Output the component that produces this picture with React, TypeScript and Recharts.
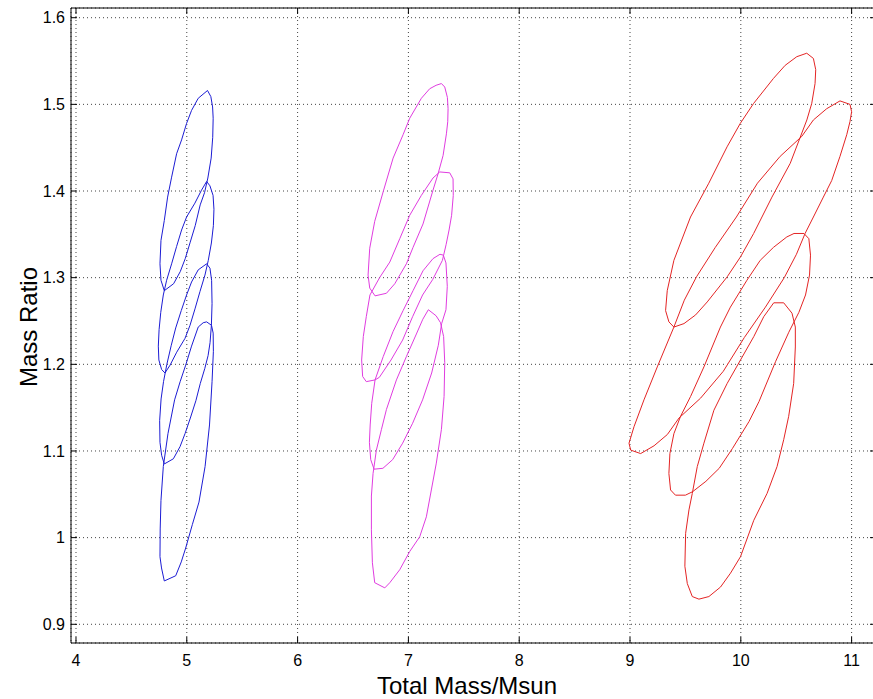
import { CartesianGrid, Scatter, ScatterChart, XAxis, YAxis } from 'recharts';

type Pt = [number, number];

// axis ticks
const xTicks = [4, 5, 6, 7, 8, 9, 10, 11];
const yTicks = [0.9, 1, 1.1, 1.2, 1.3, 1.4, 1.5, 1.6];
const xDomain: [number, number] = [3.955, 11.22];
const yDomain: [number, number] = [0.8784, 1.6112];

// contours, clockwise from the top tip
const blue1: Pt[] = [
  [5.187, 1.516], [5.217, 1.509], [5.233, 1.497], [5.238, 1.484], [5.234, 1.462], [5.22, 1.438],
  [5.19, 1.415], [5.16, 1.398], [5.121, 1.384], [5.076, 1.36], [5.031, 1.341], [4.986, 1.322],
  [4.941, 1.307], [4.881, 1.293], [4.797, 1.285], [4.767, 1.297], [4.758, 1.316], [4.767, 1.343],
  [4.797, 1.366], [4.827, 1.393], [4.863, 1.416], [4.908, 1.443], [4.953, 1.459], [4.998, 1.478],
  [5.043, 1.493], [5.103, 1.507],
];
const blue2: Pt[] = [
  [5.179, 1.411], [5.209, 1.406], [5.237, 1.395], [5.245, 1.379], [5.24, 1.36], [5.222, 1.34],
  [5.194, 1.32], [5.164, 1.303], [5.119, 1.284], [5.074, 1.264], [5.029, 1.245], [4.984, 1.23],
  [4.909, 1.214], [4.849, 1.199], [4.803, 1.19], [4.773, 1.194], [4.748, 1.205], [4.743, 1.221],
  [4.75, 1.24], [4.765, 1.26], [4.788, 1.28], [4.818, 1.297], [4.863, 1.316], [4.908, 1.336],
  [4.953, 1.355], [4.998, 1.37], [5.073, 1.386], [5.133, 1.401],
];
const blue3: Pt[] = [
  [5.179, 1.316], [5.209, 1.311], [5.224, 1.297], [5.228, 1.27], [5.222, 1.245], [5.21, 1.225],
  [5.192, 1.21], [5.162, 1.195], [5.122, 1.178], [5.082, 1.158], [5.032, 1.138], [4.984, 1.12],
  [4.939, 1.105], [4.879, 1.091], [4.797, 1.085], [4.773, 1.095], [4.758, 1.11], [4.755, 1.135],
  [4.768, 1.16], [4.79, 1.18], [4.82, 1.2], [4.86, 1.222], [4.9, 1.242], [4.95, 1.262],
  [4.998, 1.28], [5.043, 1.295], [5.103, 1.309],
];
const blue4: Pt[] = [
  [5.179, 1.249], [5.223, 1.245], [5.238, 1.236], [5.24, 1.215], [5.228, 1.18], [5.205, 1.13],
  [5.165, 1.082], [5.11, 1.041], [5.05, 1.015], [4.99, 0.988], [4.95, 0.972], [4.9, 0.956],
  [4.797, 0.95], [4.772, 0.965], [4.758, 0.978], [4.76, 1.01], [4.767, 1.043], [4.788, 1.082],
  [4.83, 1.12], [4.89, 1.159], [4.94, 1.18], [4.99, 1.199], [5.043, 1.221], [5.103, 1.243],
  [5.148, 1.248],
];

const magenta1: Pt[] = [
  [7.298, 1.524], [7.328, 1.52], [7.352, 1.508], [7.358, 1.495], [7.355, 1.48], [7.343, 1.466],
  [7.313, 1.441], [7.268, 1.42], [7.222, 1.401], [7.132, 1.362], [7.042, 1.335], [6.982, 1.316],
  [6.877, 1.293], [6.802, 1.282], [6.699, 1.279], [6.651, 1.288], [6.636, 1.303], [6.651, 1.334],
  [6.696, 1.365], [6.772, 1.399], [6.862, 1.438], [6.952, 1.465], [7.012, 1.484], [7.117, 1.507],
  [7.192, 1.518], [7.25, 1.522],
];
const magenta2: Pt[] = [
  [7.283, 1.422], [7.373, 1.421], [7.403, 1.414], [7.405, 1.395], [7.39, 1.372], [7.367, 1.355],
  [7.34, 1.338], [7.307, 1.32], [7.22, 1.298], [7.128, 1.28], [7.038, 1.255], [6.948, 1.228],
  [6.843, 1.205], [6.738, 1.185], [6.699, 1.182], [6.62, 1.18], [6.587, 1.186], [6.578, 1.205],
  [6.593, 1.232], [6.62, 1.255], [6.653, 1.28], [6.74, 1.3], [6.832, 1.318], [6.922, 1.345],
  [7.012, 1.372], [7.117, 1.395], [7.222, 1.415],
];
const magenta3: Pt[] = [
  [7.285, 1.327], [7.315, 1.326], [7.339, 1.317], [7.351, 1.29], [7.339, 1.263], [7.3, 1.247],
  [7.27, 1.222], [7.21, 1.19], [7.128, 1.159], [7.038, 1.132], [6.948, 1.109], [6.858, 1.09],
  [6.77, 1.08], [6.69, 1.079], [6.66, 1.09], [6.648, 1.11], [6.655, 1.13], [6.669, 1.155],
  [6.699, 1.182], [6.773, 1.209], [6.862, 1.238], [6.952, 1.262], [7.042, 1.285], [7.132, 1.308],
  [7.222, 1.322],
];
const magenta4: Pt[] = [
  [7.18, 1.263], [7.25, 1.256], [7.29, 1.248], [7.318, 1.232], [7.328, 1.202], [7.322, 1.163],
  [7.298, 1.125], [7.252, 1.086], [7.207, 1.055], [7.162, 1.024], [7.102, 1.001], [7.012, 0.984],
  [6.922, 0.963], [6.832, 0.948], [6.787, 0.942], [6.696, 0.948], [6.675, 0.971], [6.666, 1.009],
  [6.666, 1.048], [6.681, 1.074], [6.711, 1.101], [6.757, 1.125], [6.802, 1.148], [6.892, 1.182],
  [6.982, 1.209], [7.072, 1.235], [7.13, 1.252],
];

const red1: Pt[] = [
  [10.595, 1.559], [10.655, 1.553], [10.676, 1.54], [10.67, 1.524], [10.64, 1.501], [10.596, 1.482],
  [10.446, 1.432], [10.281, 1.393], [10.116, 1.351], [9.997, 1.324], [9.877, 1.301], [9.697, 1.272],
  [9.592, 1.257], [9.487, 1.247], [9.396, 1.243], [9.351, 1.249], [9.321, 1.262], [9.336, 1.285],
  [9.396, 1.32], [9.546, 1.37], [9.711, 1.409], [9.876, 1.451], [9.995, 1.478], [10.115, 1.501],
  [10.295, 1.53], [10.4, 1.545], [10.505, 1.555],
];
const red2: Pt[] = [
  [10.895, 1.504], [10.985, 1.5], [11.0, 1.4915], [10.985, 1.48], [10.956, 1.465], [10.895, 1.44],
  [10.82, 1.412], [10.745, 1.393], [10.655, 1.37], [10.58, 1.351], [10.502, 1.327], [10.392, 1.3],
  [10.222, 1.266], [10.032, 1.231], [9.842, 1.192], [9.637, 1.161], [9.442, 1.138], [9.337, 1.119],
  [9.217, 1.106], [9.096, 1.097], [9.006, 1.101], [8.991, 1.109], [9.036, 1.128], [9.126, 1.159],
  [9.246, 1.197], [9.396, 1.243], [9.49, 1.274], [9.6, 1.301], [9.77, 1.335], [9.96, 1.37],
  [10.15, 1.409], [10.355, 1.44], [10.55, 1.463], [10.655, 1.482], [10.775, 1.495],
];
const red3: Pt[] = [
  [10.48, 1.351], [10.57, 1.351], [10.614, 1.345], [10.629, 1.326], [10.62, 1.303], [10.584, 1.28],
  [10.524, 1.26], [10.433, 1.237], [10.313, 1.203], [10.164, 1.157], [10.074, 1.134], [9.925, 1.103],
  [9.805, 1.08], [9.685, 1.065], [9.565, 1.053], [9.5, 1.049], [9.41, 1.049], [9.366, 1.055],
  [9.351, 1.074], [9.36, 1.097], [9.396, 1.12], [9.456, 1.14], [9.547, 1.163], [9.667, 1.197],
  [9.816, 1.243], [9.906, 1.266], [10.055, 1.297], [10.175, 1.32], [10.295, 1.335], [10.415, 1.347],
];
const red4: Pt[] = [
  [10.297, 1.271], [10.387, 1.271], [10.462, 1.259], [10.492, 1.243], [10.492, 1.22], [10.477, 1.178],
  [10.432, 1.14], [10.387, 1.113], [10.327, 1.082], [10.237, 1.051], [10.117, 1.02], [9.997, 0.978],
  [9.907, 0.959], [9.817, 0.943], [9.712, 0.932], [9.622, 0.929], [9.562, 0.932], [9.517, 0.947],
  [9.495, 0.967], [9.502, 1.005], [9.532, 1.032], [9.562, 1.051], [9.607, 1.082], [9.667, 1.109],
  [9.757, 1.147], [9.877, 1.178], [9.997, 1.205], [10.117, 1.232], [10.207, 1.255],
];

const BLUE = '#1c1cd4';
const MAGENTA = '#e03ce0';
const RED = '#e42424';

const contours = [
  { name: 'b1', color: BLUE, pts: blue1 },
  { name: 'b2', color: BLUE, pts: blue2 },
  { name: 'b3', color: BLUE, pts: blue3 },
  { name: 'b4', color: BLUE, pts: blue4 },
  { name: 'm1', color: MAGENTA, pts: magenta1 },
  { name: 'm2', color: MAGENTA, pts: magenta2 },
  { name: 'm3', color: MAGENTA, pts: magenta3 },
  { name: 'm4', color: MAGENTA, pts: magenta4 },
  { name: 'r1', color: RED, pts: red1 },
  { name: 'r2', color: RED, pts: red2 },
  { name: 'r3', color: RED, pts: red3 },
  { name: 'r4', color: RED, pts: red4 },
];

// close each loop by repeating the first vertex
const toRows = (pts: Pt[]) => [...pts, pts[0]].map(([x, y]) => ({ x, y }));

// plot box edges in px (margins + axis sizes below)
const PLOT_TOP = 8;
const PLOT_BOTTOM = 643;
const PLOT_LEFT = 71;
const PLOT_RIGHT = 876;
const TICK = 6;
const TICK_FONT = 16;

// matlab-style ticks: pointing into the box, on both opposite edges
function XTick({ x, y, payload }: any) {
  return (
    <g>
      <line x1={x} x2={x} y1={PLOT_BOTTOM} y2={PLOT_BOTTOM - TICK} stroke="#000" />
      <line x1={x} x2={x} y1={PLOT_TOP} y2={PLOT_TOP + TICK} stroke="#000" />
      <text x={x} y={y} dy="0.71em" textAnchor="middle" fill="#000" fontSize={TICK_FONT}>
        {payload.value}
      </text>
    </g>
  );
}

function YTick({ x, y, payload }: any) {
  return (
    <g>
      <line x1={PLOT_LEFT} x2={PLOT_LEFT + TICK} y1={y} y2={y} stroke="#000" />
      <line x1={PLOT_RIGHT} x2={PLOT_RIGHT - TICK} y1={y} y2={y} stroke="#000" />
      <text x={x} y={y} dy="0.355em" textAnchor="end" fill="#000" fontSize={TICK_FONT}>
        {String(payload.value)}
      </text>
    </g>
  );
}

export default function App() {
  return (
    <div
      style={{
        position: 'absolute',
        left: 0,
        top: 0,
        width: 873,
        height: 699,
        overflow: 'hidden',
        background: '#fff',
        fontFamily: '"Liberation Sans", Arial, sans-serif',
      }}
    >
      <ScatterChart width={880} height={699} margin={{ top: 6, right: 2, bottom: 16, left: 11 }}>
        <CartesianGrid stroke="#444" strokeDasharray="1 3" />
        <XAxis
          type="number"
          dataKey="x"
          domain={xDomain}
          ticks={xTicks}
          allowDataOverflow
          height={40}
          tickLine={false}
          tickSize={0}
          tickMargin={12}
          stroke="#000"
          tick={<XTick />}
          interval={0}
        />
        <YAxis
          type="number"
          dataKey="y"
          domain={yDomain}
          ticks={yTicks}
          allowDataOverflow
          width={60}
          tickLine={false}
          tickSize={0}
          tickMargin={6}
          stroke="#000"
          tick={<YTick />}
          interval={0}
        />
        <XAxis
          xAxisId="top"
          orientation="top"
          type="number"
          domain={xDomain}
          ticks={xTicks}
          allowDataOverflow
          height={2}
          tick={false}
          tickLine={false}
          stroke="#000"
        />
        <YAxis
          yAxisId="right"
          orientation="right"
          type="number"
          domain={yDomain}
          ticks={yTicks}
          allowDataOverflow
          width={2}
          tick={false}
          tickLine={false}
          stroke="#000"
        />
        {contours.map((c) => (
          <Scatter
            key={c.name}
            name={c.name}
            data={toRows(c.pts)}
            line={{ stroke: c.color, strokeWidth: 1 }}
            lineType="joint"
            shape={() => <g />}
            legendType="none"
            isAnimationActive={false}
          />
        ))}
      </ScatterChart>
      <div
        style={{
          position: 'absolute',
          left: 467,
          top: 674,
          transform: 'translateX(-50%)',
          fontSize: 24,
          lineHeight: 1,
          whiteSpace: 'nowrap',
          color: '#000',
        }}
      >
        Total Mass/Msun
      </div>
      <div
        style={{
          position: 'absolute',
          left: 29,
          top: 327,
          transform: 'translate(-50%, -50%) rotate(-90deg)',
          fontSize: 24,
          lineHeight: 1,
          whiteSpace: 'nowrap',
          color: '#000',
        }}
      >
        Mass Ratio
      </div>
    </div>
  );
}
